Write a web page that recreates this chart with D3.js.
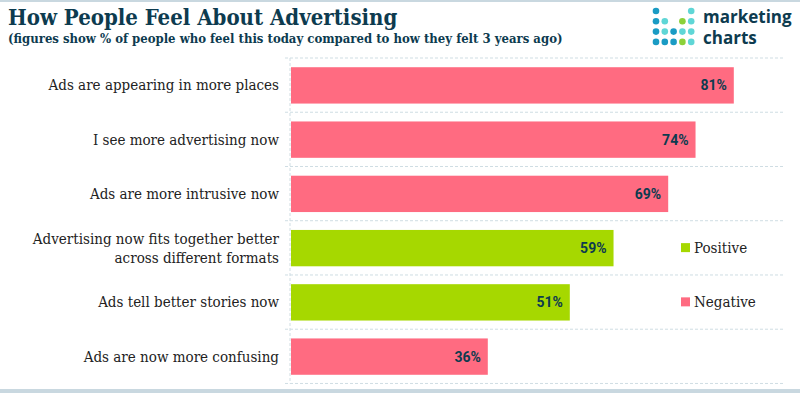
<!DOCTYPE html>
<html>
<head>
<meta charset="utf-8">
<script src="https://cdn.jsdelivr.net/npm/d3@7"></script>
<style>
  body { margin: 0; background: #fff; }
  svg { display: block; }
</style>
</head>
<body>
<div id="chart"></div>
<script>
var categories = [
  "Ads are appearing in more places",
  "I see more advertising now",
  "Ads are more intrusive now",
  "Advertising now fits together better|across different formats",
  "Ads tell better stories now",
  "Ads are now more confusing"
];
var values = [81, 74, 69, 59, 51, 36];
var sentiment = ["Negative", "Negative", "Negative", "Positive", "Positive", "Negative"];
var legend_items = ["Positive", "Negative"];

var width = 800, height = 393;
var colors = { Positive: "#a6d800", Negative: "#ff6b81" };
var navy = "#0d3b4f";

var svg = d3.select("#chart").append("svg")
    .attr("width", width)
    .attr("height", height);

// borders top and bottom
svg.append("rect").attr("x", 0).attr("y", 0).attr("width", width).attr("height", 2).attr("fill", "#c9d8e0");
svg.append("rect").attr("x", 0).attr("y", 389).attr("width", width).attr("height", 4).attr("fill", "#c9d8e0");

svg.append("text")
    .attr("x", 8).attr("y", 25)
    .style("font-family", "DejaVu Serif Condensed, DejaVu Serif")
    .style("font-weight", "bold")
    .style("font-size", "22px")
    .attr("fill", navy)
    .text("How People Feel About Advertising");

svg.append("text")
    .attr("x", 8).attr("y", 43)
    .style("font-family", "DejaVu Serif Condensed, DejaVu Serif")
    .style("font-weight", "bold")
    .style("font-size", "13px")
    .attr("fill", navy)
    .text("(figures show % of people who feel this today compared to how they felt 3 years ago)");

// logo
var dots = [
  [0, 0, "#1a9bc4"], [4, 0, "#5fd6d6"],
  [0, 1, "#1a9bc4"], [1, 1, "#5fd6d6"], [3, 1, "#8bd13a"], [4, 1, "#5fd6d6"],
  [0, 2, "#1a9bc4"], [1, 2, "#5fd6d6"], [2, 2, "#1a9bc4"], [3, 2, "#5fd6d6"], [4, 2, "#5fd6d6"],
  [0, 3, "#1a9bc4"], [1, 3, "#1a9bc4"], [2, 3, "#1a9bc4"], [3, 3, "#8bd13a"], [4, 3, "#5fd6d6"]
];
var logo = svg.append("g").attr("transform", "translate(656, 11)");
logo.selectAll("circle").data(dots).enter().append("circle")
    .attr("cx", function(d) { return d[0] * 8.8; })
    .attr("cy", function(d) { return d[1] * 10.3; })
    .attr("r", 3.3)
    .attr("fill", function(d) { return d[2]; });
svg.append("text").attr("x", 703).attr("y", 23)
    .style("font-family", "Open Sans").style("font-weight", "bold").style("font-size", "17px")
    .attr("fill", navy).text("marketing");
svg.append("text").attr("x", 703).attr("y", 44)
    .style("font-family", "Open Sans").style("font-weight", "bold").style("font-size", "17px")
    .attr("fill", navy).text("charts");

var margin = { left: 291, right: 17, top: 58, bottom: 9 };

var x_axis = d3.scaleLinear()
    .domain([0, 90])
    .range([margin.left, width - margin.right]);

var y_axis = d3.scaleBand()
    .domain(categories)
    .range([margin.top, height - margin.bottom])
    .paddingInner(0.33)
    .paddingOuter(0.17);

// dashed grid lines between rows
var step = y_axis.step();
var grid_y = d3.range(categories.length + 1).map(function(i) { return margin.top + i * step; });
svg.append("g").selectAll("line").data(grid_y).enter().append("line")
    .attr("x1", 285).attr("x2", 785)
    .attr("y1", function(d) { return d; })
    .attr("y2", function(d) { return d; })
    .attr("stroke", "#cfdde3")
    .attr("stroke-dasharray", "3,2");
svg.append("line")
    .attr("x1", 290).attr("x2", 290)
    .attr("y1", margin.top).attr("y2", grid_y[grid_y.length - 1])
    .attr("stroke", "#cfdde3")
    .attr("stroke-dasharray", "3,2");

svg.append("g").selectAll("rect").data(categories).enter().append("rect")
    .attr("x", x_axis(0))
    .attr("y", function(d) { return y_axis(d); })
    .attr("width", function(d, i) { return x_axis(values[i]) - x_axis(0); })
    .attr("height", y_axis.bandwidth())
    .attr("fill", function(d, i) { return colors[sentiment[i]]; });

svg.append("g").selectAll("text").data(categories).enter().append("text")
    .attr("x", function(d, i) { return x_axis(values[i]) - 7; })
    .attr("y", function(d) { return y_axis(d) + y_axis.bandwidth() / 2 + 5; })
    .style("text-anchor", "end")
    .style("font-family", "Roboto")
    .style("font-weight", "bold")
    .style("font-size", "14px")
    .attr("fill", navy)
    .text(function(d, i) { return values[i] + "%"; });

// category labels
var labels = svg.append("g").selectAll("text").data(categories).enter().append("text")
    .attr("x", 279)
    .attr("y", function(d) { return y_axis(d) + y_axis.bandwidth() / 2; })
    .style("text-anchor", "end")
    .style("font-family", "DejaVu Serif Condensed, DejaVu Serif")
    .style("font-size", "15px")
    .attr("fill", "#222");
labels.each(function(d) {
    var lines = d.split("|");
    var t = d3.select(this);
    lines.forEach(function(l, j) {
        t.append("tspan")
            .attr("x", 279)
            .attr("dy", j == 0 ? (5 - (lines.length - 1) * 9) : 19)
            .text(l);
    });
});

// legend
var legend_y = [y_axis(categories[3]) + y_axis.bandwidth() / 2, y_axis(categories[4]) + y_axis.bandwidth() / 2];
var legend = svg.append("g").selectAll("g").data(legend_items).enter().append("g")
    .attr("transform", function(d, i) { return `translate(681, ${legend_y[i]})`; });
legend.append("rect")
    .attr("x", 0).attr("y", -5).attr("width", 9).attr("height", 9)
    .attr("fill", function(d) { return colors[d]; });
legend.append("text")
    .attr("x", 13).attr("y", 5)
    .style("font-family", "DejaVu Serif Condensed, DejaVu Serif")
    .style("font-size", "15px")
    .attr("fill", "#222")
    .text(function(d) { return d; });
</script>
</body>
</html>
